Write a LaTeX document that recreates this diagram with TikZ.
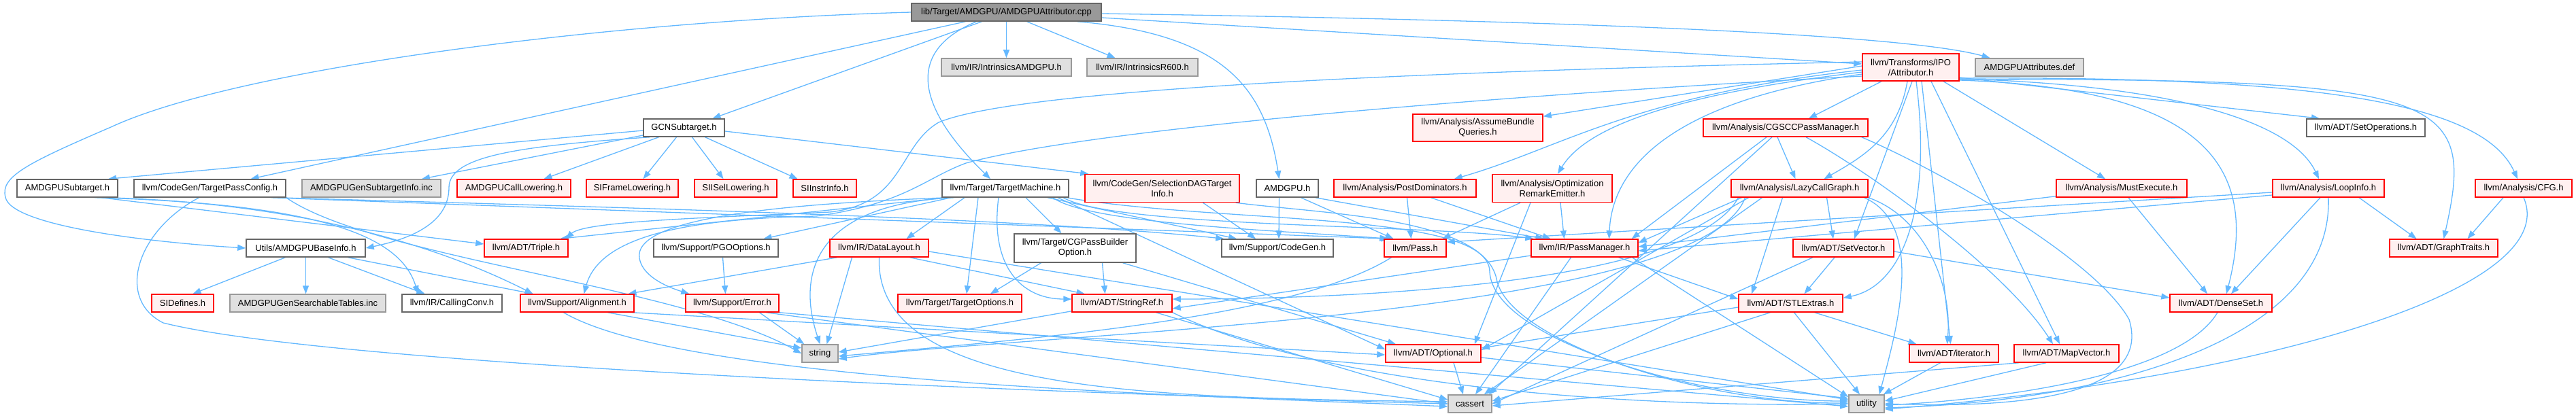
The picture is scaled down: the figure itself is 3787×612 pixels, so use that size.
\documentclass[tikz,border=0pt]{standalone}
\usepackage{fontspec}
\setmainfont{Liberation Sans}
\usetikzlibrary{arrows.meta,calc}
\definecolor{edgeblue}{HTML}{63B8FF}
\definecolor{redfill}{HTML}{FFF0F0}
\definecolor{grayfill}{HTML}{E0E0E0}
\definecolor{graybd}{HTML}{999999}
\definecolor{darkbd}{HTML}{666666}
\definecolor{mainfill}{HTML}{999999}
\pgfdeclarelayer{bg}
\pgfsetlayers{bg,main}
\begin{document}
\begin{tikzpicture}[x=1pt,y=-1pt,
  box/.style={line width=1.5pt, inner sep=0pt, align=center, minimum height=26pt, font=\fontsize{13pt}{15pt}\selectfont},
  wbox/.style={box, draw=darkbd, fill=white},
  rbox/.style={box, draw=red, fill=redfill},
  gbox/.style={box, draw=graybd, fill=grayfill},
  mbox/.style={box, draw=darkbd, fill=mainfill},
  edge/.style={draw=edgeblue, line width=1.3pt, -{Triangle[length=12pt,width=9pt]}}]
\useasboundingbox (0,0) rectangle (3787,612);
% row 0
\node[mbox,minimum width=279pt] (cpp) at (1479.5,18) {lib/Target/AMDGPU/AMDGPUAttributor.cpp};
% row 1
\node[gbox,minimum width=191pt] (intrAMD) at (1479.5,99) {llvm/IR/IntrinsicsAMDGPU.h};
\node[gbox,minimum width=163pt] (intrR600) at (1679.5,99) {llvm/IR/IntrinsicsR600.h};
\node[rbox,minimum width=142pt,minimum height=40pt] (ipoAttr) at (2809,99) {llvm/Transforms/IPO\\/Attributor.h};
\node[gbox,minimum width=159pt] (attrDef) at (2983.5,99) {AMDGPUAttributes.def};
% row 2
\node[wbox,minimum width=119pt] (gcn) at (1005.5,188) {GCNSubtarget.h};
\node[rbox,minimum width=191pt,minimum height=40pt] (assume) at (2172.5,188) {llvm/Analysis/AssumeBundle\\Queries.h};
\node[rbox,minimum width=242pt] (cgscc) at (2625,188) {llvm/Analysis/CGSCCPassManager.h};
\node[wbox,minimum width=174pt] (setops) at (3478,188) {llvm/ADT/SetOperations.h};
% row 3
\node[wbox,minimum width=148pt] (amdSub) at (99,277) {AMDGPUSubtarget.h};
\node[wbox,minimum width=223pt] (tpc) at (308.5,277) {llvm/CodeGen/TargetPassConfig.h};
\node[gbox,minimum width=204pt] (genSub) at (546,277) {AMDGPUGenSubtargetInfo.inc};
\node[rbox,minimum width=167pt] (callLow) at (755.5,277) {AMDGPUCallLowering.h};
\node[rbox,minimum width=135pt] (siFrame) at (929.5,277) {SIFrameLowering.h};
\node[rbox,minimum width=121pt] (siISel) at (1081.5,277) {SIISelLowering.h};
\node[rbox,minimum width=93pt] (siInstr) at (1212.5,277) {SIInstrInfo.h};
\node[wbox,minimum width=186pt] (tm) at (1478,277) {llvm/Target/TargetMachine.h};
\node[rbox,minimum width=227pt,minimum height=41pt] (sdag) at (1708.5,277) {llvm/CodeGen/SelectionDAGTarget\\Info.h};
\node[wbox,minimum width=91pt] (amdgpu) at (1892.5,277) {AMDGPU.h};
\node[rbox,minimum width=209pt] (postdom) at (2065.5,277) {llvm/Analysis/PostDominators.h};
\node[rbox,minimum width=176pt,minimum height=41pt] (ore) at (2282,277) {llvm/Analysis/Optimization\\RemarkEmitter.h};
\node[rbox,minimum width=201pt] (lcg) at (2645.5,277) {llvm/Analysis/LazyCallGraph.h};
\node[rbox,minimum width=192pt] (must) at (3119,277) {llvm/Analysis/MustExecute.h};
\node[rbox,minimum width=164pt] (loop) at (3423,277) {llvm/Analysis/LoopInfo.h};
\node[rbox,minimum width=142pt] (cfg) at (3710,277) {llvm/Analysis/CFG.h};
% row 4
\node[wbox,minimum width=175pt] (baseinfo) at (449.5,365) {Utils/AMDGPUBaseInfo.h};
\node[rbox,minimum width=123pt] (triple) at (773.5,365) {llvm/ADT/Triple.h};
\node[wbox,minimum width=183pt] (pgo) at (1052.5,365) {llvm/Support/PGOOptions.h};
\node[rbox,minimum width=145pt] (datalayout) at (1292.5,365) {llvm/IR/DataLayout.h};
\node[wbox,minimum width=179pt,minimum height=42pt] (cgpbo) at (1580.5,365) {llvm/Target/CGPassBuilder\\Option.h};
\node[wbox,minimum width=164pt] (codegen) at (1878,365) {llvm/Support/CodeGen.h};
\node[rbox,minimum width=91pt] (pass) at (2080.5,365) {llvm/Pass.h};
\node[rbox,minimum width=157pt] (passmgr) at (2329.5,365) {llvm/IR/PassManager.h};
\node[rbox,minimum width=148pt] (setvec) at (2710,365) {llvm/ADT/SetVector.h};
\node[rbox,minimum width=159pt] (graphtraits) at (3592.5,365) {llvm/ADT/GraphTraits.h};
% row 5
\node[rbox,minimum width=91pt] (sidefines) at (268.5,446) {SIDefines.h};
\node[gbox,minimum width=229pt] (searchable) at (452.5,446) {AMDGPUGenSearchableTables.inc};
\node[wbox,minimum width=147pt] (callconv) at (664.5,446) {llvm/IR/CallingConv.h};
\node[rbox,minimum width=167pt] (align) at (848.5,446) {llvm/Support/Alignment.h};
\node[rbox,minimum width=137pt] (error) at (1076.5,446) {llvm/Support/Error.h};
\node[rbox,minimum width=182pt] (targetopts) at (1411,446) {llvm/Target/TargetOptions.h};
\node[rbox,minimum width=147pt] (stringref) at (1649.5,446) {llvm/ADT/StringRef.h};
\node[rbox,minimum width=153pt] (stlextras) at (2632.5,446) {llvm/ADT/STLExtras.h};
\node[rbox,minimum width=150pt] (denseset) at (3265,446) {llvm/ADT/DenseSet.h};
% row 6
\node[gbox,minimum width=53pt] (string) at (1205.5,520) {string};
\node[rbox,minimum width=140pt] (optional) at (2107,520) {llvm/ADT/Optional.h};
\node[rbox,minimum width=131pt] (iterator) at (2872.5,520) {llvm/ADT/iterator.h};
\node[rbox,minimum width=154pt] (mapvector) at (3038,520) {llvm/ADT/MapVector.h};
% row 7
\node[gbox,minimum width=64pt] (cassert) at (2161,594) {cassert};
\node[gbox,minimum width=52pt] (utility) at (2744,594) {utility};

\begin{pgfonlayer}{bg}
% cpp
\draw[edge] (cpp.south) -- (intrAMD.north);
\draw[edge] ($(cpp.south)+(30,0)$) -- ($(intrR600.north)+(-40,0)$);
\draw[edge] ($(cpp.south)+(-44,0)$) .. controls (1320,80) and (1360,170) .. ($(tm.north)+(-22,0)$);
\draw[edge] ($(cpp.south)+(-60,0)$) -- ($(tpc.north)+(60,0)$);
\draw[edge] ($(cpp.south)+(-36,0)$) -- ($(gcn.north)+(42,0)$);
\draw[edge] (cpp.west) .. controls (900,30) and (350,100) .. (163,187) .. controls (40,240) and (0,260) .. (8,290) .. controls (15,330) and (200,355) .. (baseinfo.west);
\draw[edge] ($(cpp.south)+(104,0)$) .. controls (1800,50) and (1860,130) .. ($(amdgpu.north)+(-12,0)$);
\draw[edge] ($(cpp.east)+(0,8)$) -- ($(ipoAttr.west)+(0,-5)$);
\draw[edge] ($(cpp.east)+(0,2)$) .. controls (2300,30) and (2800,50) .. ($(attrDef.north)+(-58,0)$);
% gcn
\draw[edge] ($(gcn.west)+(0,4)$) -- ($(amdSub.north)+(60,0)$);
\draw[edge] ($(gcn.west)+(0,11)$) -- ($(genSub.north)+(74,0)$);
\draw[edge] ($(gcn.south)+(-37,0)$) -- ($(callLow.north)+(44,0)$);
\draw[edge] ($(gcn.south)+(-11,0)$) -- ($(siFrame.north)+(16,0)$);
\draw[edge] ($(gcn.south)+(12,0)$) -- ($(siISel.north)+(-18,0)$);
\draw[edge] ($(gcn.south)+(31,0)$) -- ($(siInstr.north)+(-40,0)$);
\draw[edge] ($(gcn.east)+(0,5)$) -- ($(sdag.north west)+(6,0)$);
\draw[edge] ($(gcn.south)+(-50,0)$) .. controls (760,215) and (660,230) .. (660,276) .. controls (660,330) and (600,352) .. (baseinfo.east);
% amdSub
\draw[edge] ($(amdSub.south)+(50,0)$) -- ($(triple.west)+(0,-6)$);
\draw[edge] ($(amdSub.south)+(40,0)$) .. controls (480,300) and (590,350) .. ($(callconv.north)+(-50,0)$);
\draw[edge] ($(amdSub.south)+(58,0)$) .. controls (500,300) and (700,390) .. ($(align.north)+(-65,0)$);
% tpc
\draw[edge] ($(tpc.south)+(-16,0)$) .. controls (200,340) and (170,440) .. (240,475) .. controls (500,540) and (1600,580) .. (cassert.west);
\draw[edge] ($(tpc.south)+(90,0)$) -- ($(pass.north west)+(8,0)$);
\draw[edge] ($(tpc.south)+(100,0)$) .. controls (900,305) and (1500,320) .. ($(codegen.north west)+(4,0)$);
\draw[edge] (tpc.south east) .. controls (550,380) and (1000,420) .. (string.west);
% baseinfo
\draw[edge] ($(baseinfo.south)+(-30,0)$) -- ($(sidefines.north)+(15,0)$);
\draw[edge] (baseinfo.south) -- ($(searchable.north)+(-3,0)$);
\draw[edge] ($(baseinfo.south)+(33,0)$) -- ($(callconv.north)+(-40,0)$);
\draw[edge] ($(baseinfo.south)+(62,0)$) -- ($(align.north)+(-65,0)$);
% tm
\draw[edge] ($(tm.south)+(-88,0)$) -- ($(triple.north)+(50,0)$);
\draw[edge] ($(tm.south)+(-80,0)$) -- ($(pgo.north)+(70,0)$);
\draw[edge] ($(tm.south)+(-85,0)$) .. controls (1150,300) and (930,320) .. (940,380) .. controls (945,410) and (990,425) .. ($(error.north west)+(6,0)$);
\draw[edge] ($(tm.south)+(-60,0)$) -- ($(datalayout.north)+(40,0)$);
\draw[edge] ($(tm.south)+(-75,0)$) .. controls (1200,300) and (1170,400) .. (string.north);
\draw[edge] ($(tm.south)+(30,0)$) -- ($(cgpbo.north)+(-20,0)$);
\draw[edge] ($(tm.south)+(-40,0)$) -- ($(targetopts.north)+(10,0)$);
\draw[edge] ($(tm.south)+(-10,0)$) .. controls (1455,390) and (1500,440) .. ($(stringref.west)+(0,-6)$);
\draw[edge] ($(tm.south)+(77,0)$) -- ($(optional.west)+(0,-6)$);
\draw[edge] ($(tm.south)+(62,0)$) -- ($(codegen.north)+(-60,0)$);
\draw[edge] ($(tm.south)+(70,0)$) .. controls (1600,330) and (1900,340) .. ($(pass.north west)+(6,0)$);
\draw[edge] ($(tm.south)+(85,0)$) .. controls (1640,335) and (2100,330) .. ($(passmgr.north west)+(4,0)$);
\draw[edge] ($(tm.south)+(90,0)$) .. controls (1800,330) and (2190,310) .. (2190,400) .. controls (2195,500) and (2500,590) .. ($(utility.west)+(0,-4)$);
% sdag
\draw[edge] ($(sdag.south)+(60,0)$) -- ($(codegen.north)+(-32,0)$);
\draw[edge] ($(sdag.south east)+(-6,0)$) .. controls (1950,315) and (2180,320) .. (2200,410) .. controls (2215,500) and (2500,594) .. ($(utility.west)+(0,-1)$);
% amdgpu
\draw[edge] ($(amdgpu.south)+(-12,0)$) -- ($(codegen.north)+(2,0)$);
\draw[edge] ($(amdgpu.south)+(20,0)$) -- ($(pass.north)+(-32,0)$);
\draw[edge] ($(amdgpu.south east)+(-5,0)$) -- ($(passmgr.north)+(-60,0)$);
% pgo
\draw[edge] ($(pgo.south)+(10,0)$) -- ($(error.north)+(-10,0)$);
% datalayout
\draw[edge] ($(datalayout.south)+(-62,0)$) -- ($(align.north)+(75,0)$);
\draw[edge] ($(datalayout.south)+(45,0)$) -- ($(stringref.north)+(-55,0)$);
\draw[edge] ($(datalayout.south)+(-40,0)$) -- ($(string.north)+(10,0)$);
\draw[edge] (datalayout.south) .. controls (1285,580) and (1700,585) .. ($(cassert.west)+(0,-3)$);
\draw[edge] ($(datalayout.east)+(0,5)$) -- ($(utility.west)+(0,-6)$);
% cgpbo
\draw[edge] ($(cgpbo.south)+(-50,0)$) -- ($(targetopts.north)+(45,0)$);
\draw[edge] ($(cgpbo.south)+(40,0)$) -- ($(stringref.north)+(-25,0)$);
\draw[edge] ($(cgpbo.south)+(70,0)$) -- ($(optional.north)+(-55,0)$);
% align
\draw[edge] ($(align.south east)+(-4,0)$) -- ($(optional.west)+(0,2)$);
\draw[edge] ($(align.south)+(45,0)$) -- ($(string.west)+(0,-8)$);
\draw[edge] ($(align.south)+(-20,0)$) .. controls (1000,560) and (1700,580) .. ($(cassert.west)+(0,4)$);
% error
\draw[edge] ($(error.south)+(40,0)$) -- ($(string.north west)+(4,0)$);
\draw[edge] ($(error.south)+(50,0)$) -- (cassert.west);
\draw[edge] (error.south east) -- ($(utility.west)+(0,4)$);
% stringref
\draw[edge] ($(stringref.south west)+(0,-2)$) -- ($(string.east)+(0,-2)$);
\draw[edge] ($(stringref.south)+(50,0)$) -- ($(cassert.west)+(0,-6)$);
\draw[edge] (stringref.south east) .. controls (1950,570) and (2400,600) .. (utility.west);
% pass
\draw[edge] ($(pass.south)+(-35,0)$) .. controls (1900,470) and (1500,500) .. ($(string.east)+(0,4)$);
% postdom
\draw[edge] ($(postdom.south)+(3,0)$) -- ($(pass.north)+(-6,0)$);
\draw[edge] ($(postdom.south)+(38,0)$) -- ($(passmgr.north)+(-50,0)$);
% ore
\draw[edge] ($(ore.south)+(-47,0)$) -- ($(pass.north)+(40,0)$);
\draw[edge] ($(ore.south)+(-32,0)$) -- ($(optional.north east)+(-10,0)$);
\draw[edge] ($(ore.south)+(12,0)$) -- ($(passmgr.north)+(-30,0)$);
% passmgr
\draw[edge] ($(passmgr.west)+(0,11)$) -- ($(stringref.east)+(0,8)$);
\draw[edge] ($(passmgr.south)+(50,0)$) -- ($(stlextras.west)+(0,-6)$);
\draw[edge] ($(passmgr.south)+(-20,0)$) -- ($(cassert.north)+(8,0)$);
\draw[edge] ($(passmgr.south)+(70,0)$) -- ($(utility.west)+(0,-10)$);
% cgscc
\draw[edge] ($(cgscc.south)+(-12,0)$) -- ($(lcg.north)+(-6,0)$);
\draw[edge] ($(cgscc.south)+(-28,0)$) -- ($(passmgr.north east)+(-10,0)$);
\draw[edge] ($(cgscc.south)+(-20,0)$) -- ($(cassert.north east)+(-5,0)$);
\draw[edge] ($(cgscc.south)+(30,0)$) .. controls (2760,260) and (2950,400) .. ($(mapvector.north)+(-20,0)$);
\draw[edge] ($(cgscc.south east)+(-10,0)$) .. controls (2850,250) and (3080,380) .. (3130,470) .. controls (3170,600) and (2900,598) .. (utility.east);
% lcg
\draw[edge] ($(lcg.south)+(40,0)$) -- ($(setvec.north)+(-15,0)$);
\draw[edge] ($(lcg.south)+(-25,0)$) -- ($(stlextras.north west)+(20,0)$);
\draw[edge] ($(lcg.south)+(-85,0)$) -- ($(passmgr.east)+(0,-8)$);
\draw[edge] ($(lcg.south)+(-75,0)$) -- ($(optional.east)+(0,-5)$);
\draw[edge] ($(lcg.south)+(-90,0)$) .. controls (2480,430) and (1900,440) .. ($(stringref.east)+(0,-6)$);
\draw[edge] ($(lcg.south)+(-80,0)$) .. controls (2500,470) and (1500,490) .. ($(string.east)+(0,8)$);
\draw[edge] ($(lcg.south)+(-55,0)$) -- ($(cassert.north east)+(-12,0)$);
\draw[edge] ($(lcg.south)+(95,0)$) .. controls (2830,330) and (2790,480) .. ($(utility.north east)+(-8,0)$);
\draw[edge] (lcg.south east) .. controls (2830,320) and (2870,420) .. ($(iterator.north)+(-10,0)$);
% setvec
\draw[edge] ($(setvec.east)+(0,5)$) -- ($(denseset.west)+(0,-8)$);
\draw[edge] ($(setvec.south)+(-13,0)$) -- ($(stlextras.north)+(20,0)$);
\draw[edge] ($(setvec.south)+(-45,0)$) -- (cassert.east);
% stlextras
\draw[edge] ($(stlextras.west)+(0,6)$) -- ($(optional.east)+(0,-8)$);
\draw[edge] ($(stlextras.south)+(35,0)$) -- ($(iterator.north)+(-55,0)$);
\draw[edge] ($(stlextras.south)+(-30,0)$) -- ($(cassert.east)+(0,-4)$);
\draw[edge] ($(stlextras.south)+(5,0)$) -- ($(utility.north)+(-10,0)$);
% iterator, mapvector, denseset, optional
\draw[edge] ($(iterator.south)+(-20,0)$) -- ($(utility.north east)+(-2,0)$);
\draw[edge] ($(mapvector.south)+(-30,0)$) -- ($(utility.east)+(0,-4)$);
\draw[edge] ($(mapvector.south west)+(8,0)$) -- ($(cassert.east)+(0,3)$);
\draw[edge] ($(denseset.south)+(-5,0)$) .. controls (3200,560) and (2900,590) .. ($(utility.east)+(0,2)$);
\draw[edge] ($(optional.south)+(30,0)$) -- ($(cassert.north)+(-10,0)$);
\draw[edge] ($(optional.east)+(0,6)$) -- ($(utility.west)+(0,-8)$);
% must, loop, cfg
\draw[edge] ($(must.south west)+(0,-2)$) -- ($(passmgr.east)+(0,-2)$);
\draw[edge] ($(must.south)+(10,0)$) -- ($(denseset.north)+(-20,0)$);
\draw[edge] ($(loop.west)+(0,6)$) -- ($(pass.east)+(0,-9)$);
\draw[edge] ($(loop.west)+(0,10)$) -- ($(passmgr.east)+(0,4)$);
\draw[edge] ($(loop.south)+(-12,0)$) -- ($(denseset.north)+(15,0)$);
\draw[edge] ($(loop.south)+(45,0)$) -- ($(graphtraits.north)+(-40,0)$);
\draw[edge] (loop.south) .. controls (3430,500) and (3100,590) .. ($(utility.east)+(0,6)$);
\draw[edge] ($(cfg.south)+(-30,0)$) -- ($(graphtraits.north)+(35,0)$);
\draw[edge] (cfg.south) .. controls (3770,430) and (3300,560) .. ($(utility.east)+(0,8)$);
% ipoAttr
\draw[edge] ($(ipoAttr.south)+(-43,0)$) -- ($(cgscc.north)+(34,0)$);
\draw[edge] ($(ipoAttr.south)+(-5,0)$) .. controls (2790,200) and (2740,230) .. ($(lcg.north)+(36,0)$);
\draw[edge] ($(ipoAttr.south)+(2,0)$) -- ($(setvec.north)+(16,0)$);
\draw[edge] ($(ipoAttr.south)+(8,0)$) .. controls (2840,300) and (2800,420) .. ($(stlextras.north east)+(0,6)$);
\draw[edge] ($(ipoAttr.south)+(16,0)$) -- ($(iterator.north)+(-5,0)$);
\draw[edge] ($(ipoAttr.south)+(30,0)$) -- ($(mapvector.north)+(-10,0)$);
\draw[edge] ($(ipoAttr.south)+(48,0)$) -- ($(must.north)+(-24,0)$);
\draw[edge] ($(ipoAttr.east)+(0,15)$) -- ($(setops.north)+(-68,0)$);
\draw[edge] ($(ipoAttr.east)+(0,17)$) .. controls (3200,125) and (3370,180) .. ($(loop.north)+(-14,0)$);
\draw[edge] ($(ipoAttr.east)+(0,16)$) .. controls (3400,112) and (3650,150) .. ($(cfg.north)+(-9,0)$);
\draw[edge] ($(ipoAttr.east)+(0,18)$) .. controls (3600,115) and (3640,140) .. (graphtraits.north);
\draw[edge] ($(ipoAttr.east)+(0,19)$) .. controls (3250,130) and (3320,250) .. ($(denseset.north)+(8,0)$);
\draw[edge] ($(ipoAttr.west)+(0,10)$) .. controls (2450,150) and (2370,250) .. ($(passmgr.north)+(36,0)$);
\draw[edge] ($(ipoAttr.west)+(0,-2)$) -- ($(assume.north east)+(0,4)$);
\draw[edge] ($(ipoAttr.west)+(0,4)$) .. controls (2400,140) and (2290,220) .. ($(postdom.north east)+(-33,0)$);
\draw[edge] ($(ipoAttr.west)+(0,7)$) .. controls (2450,140) and (2330,190) .. ($(ore.north)+(8,0)$);
\draw[edge] ($(ipoAttr.west)+(0,-8)$) .. controls (2100,105) and (1500,130) .. (1380,180) .. controls (1320,215) and (1330,300) .. (1220,312) .. controls (1050,320) and (860,325) .. ($(triple.north east)+(-4,0)$);
\draw[edge] ($(ipoAttr.west)+(0,13)$) .. controls (2200,140) and (1600,190) .. (1420,240) .. controls (1360,262) and (1330,300) .. (1200,318) .. controls (1000,322) and (880,350) .. ($(align.north)+(10,0)$);
\end{pgfonlayer}
\end{tikzpicture}
\end{document}
